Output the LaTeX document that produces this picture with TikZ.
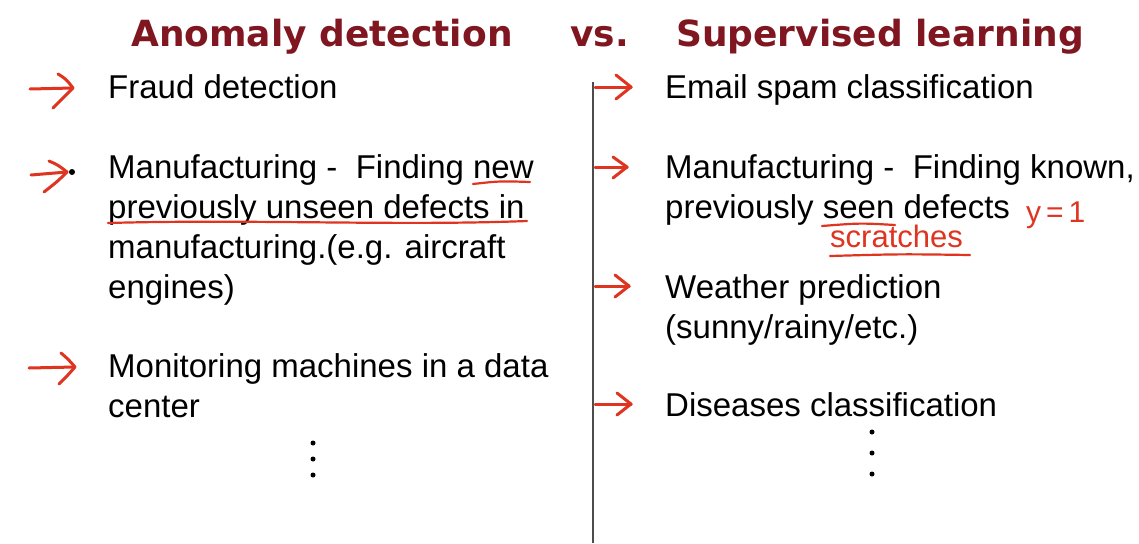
\documentclass[tikz,border=0pt]{standalone}
\usepackage{fontspec}
\setmainfont{Liberation Sans}
\newfontfamily\titlefont{DejaVu Sans}
\definecolor{titlered}{RGB}{128,22,32}
\definecolor{ink}{RGB}{222,52,32}
\tikzset{
  item/.style={anchor=base west, inner sep=0pt, align=left, font=\fontsize{33}{40}\selectfont},
  heading/.style={anchor=base west, inner sep=0pt, text=titlered, font=\titlefont\bfseries\fontsize{36}{40}\selectfont},
  inkline/.style={draw=ink, line width=2.2pt, line cap=round, line join=round},
  inkarrow/.style={draw=ink, line width=3pt, line cap=round, line join=round},
  inktext/.style={anchor=base west, inner sep=0pt, text=ink},
  dot/.style={circle, fill=black, inner sep=0pt, minimum size=5pt},
  divider/.style={draw=black!70, line width=1.3pt}
}
\begin{document}
\begin{tikzpicture}[x=1pt,y=-1pt]
\useasboundingbox[fill=white] (0,0) rectangle (1139,543);
% headings
\node[heading] (t1) at (131,46) {Anomaly detection};
\node[heading] (t2) at (570,46) {vs.};
\node[heading] (t3) at (676,46) {Supervised learning};
% divider
\coordinate (dtop) at (593,82);
\coordinate (dbot) at (593,543);
\draw[divider] (dtop) -- (dbot);
% left column (anchor = baseline of last line)
\node[item] (l1) at (108,98) {Fraud detection};
\node[item] (l2) at (108,298) {Manufacturing -\ \ Finding new\\previously unseen defects in\\manufacturing.(e.g. aircraft\\engines)};
\node[item] (l3) at (108,417) {Monitoring machines in a data\\center};
\node[dot] (ld1) at (313,443) {};
\node[dot] (ld2) at (313,459) {};
\node[dot] (ld3) at (313,475) {};
\node[dot, minimum size=6pt] (lb2) at (72,172) {};
% right column
\node[item] (r1) at (665,98) {Email spam classification};
\node[item] (r2) at (665,218) {Manufacturing -\ \ Finding known,\\previously seen defects};
\node[inktext, font=\fontsize{31}{36}\selectfont] (scr) at (830,247) {scratches};
\node[inktext, font=\fontsize{30}{34}\selectfont] (y1) at (1026,222) {y\,=\,1};
\node[item] (r3) at (665,338) {Weather prediction\\(sunny/rainy/etc.)};
\node[item] (r4) at (665,416) {Diseases classification};
\node[dot] (rd1) at (872,432) {};
\node[dot] (rd2) at (872,453) {};
\node[dot] (rd3) at (872,474) {};
% left arrows
\draw[inkarrow] (30,89) -- (73,88);
\draw[inkarrow] (58,74) .. controls (66,79) .. (73,88) .. controls (64,97) .. (53,108);
\draw[inkarrow] (31,175) -- (67,172);
\draw[inkarrow] (49,161) .. controls (58,165) .. (67,172) .. controls (58,181) .. (44,192);
\draw[inkarrow] (29,368) -- (75,367);
\draw[inkarrow] (61,353) .. controls (68,359) .. (75,367) .. controls (68,375) .. (59,384);
% right arrows
\draw[inkarrow] (595,87) -- (631,87);
\draw[inkarrow] (616,75) -- (631,87) -- (616,99);
\draw[inkarrow] (595,167) -- (627,167);
\draw[inkarrow] (613,157) -- (627,167) -- (613,178);
\draw[inkarrow] (595,286) -- (629,286);
\draw[inkarrow] (615,275) -- (629,286) -- (615,297);
\draw[inkarrow] (595,404) -- (631,404);
\draw[inkarrow] (617,393) -- (631,404) -- (617,415);
% underlines
\draw[inkline] (473,184) .. controls (500,181) .. (530,182);
\draw[inkline] (108,223) .. controls (250,219) and (400,226) .. (527,221);
\draw[inkline] (822,226) .. controls (860,223) .. (895,225);
\draw[inkline] (830,256) .. controls (900,254) .. (970,255);
\end{tikzpicture}
\end{document}
